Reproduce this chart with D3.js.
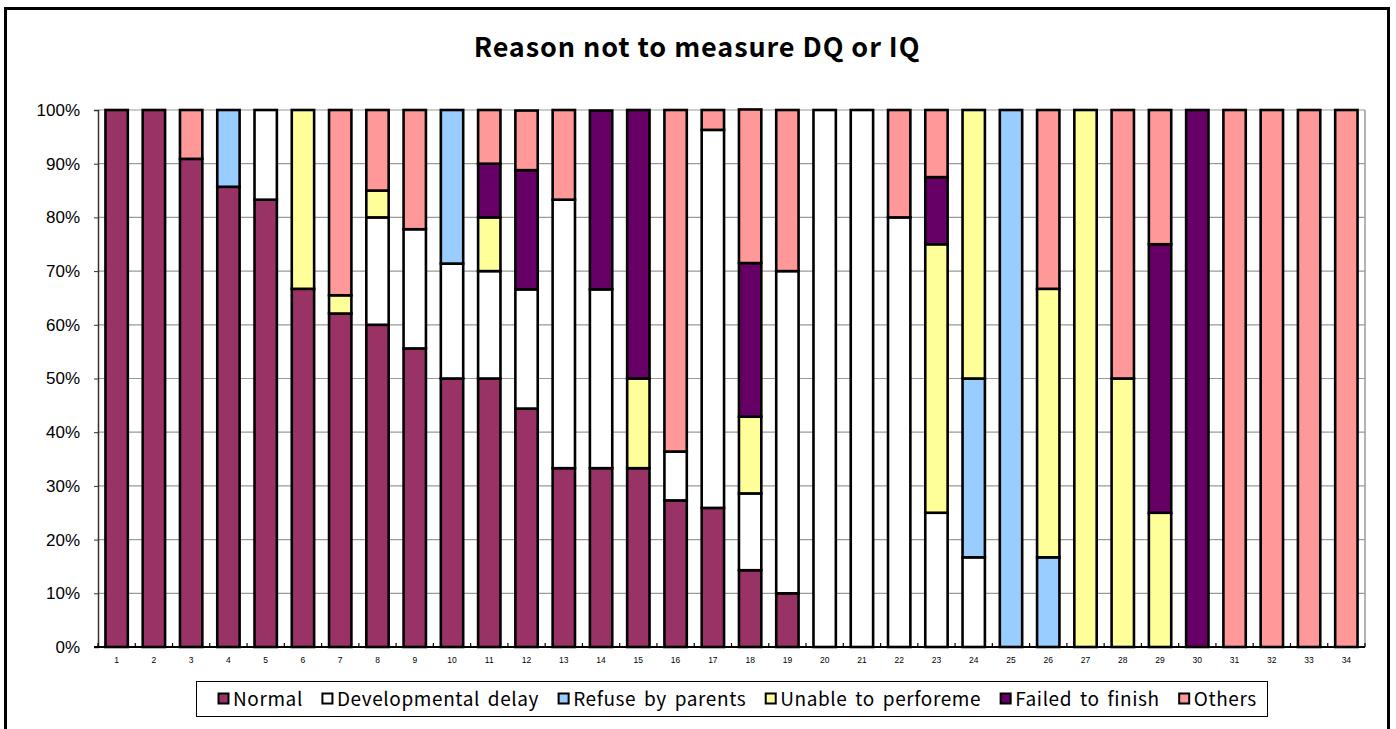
<!DOCTYPE html>
<html><head><meta charset="utf-8">
<script src="https://cdn.jsdelivr.net/npm/d3@7"></script>
<style>
html,body{margin:0;padding:0;background:#fff;}
svg{display:block;}
</style></head>
<body>
<svg id="c" width="1396" height="729"></svg>
<script>
const categories = d3.range(1, 35).map(String);
const seriesNames = ["Normal","Developmental delay","Refuse by parents","Unable to perforeme","Failed to finish","Others"];
const seriesColors = ["#993366","#FFFFFF","#99CCFF","#FFFF99","#660066","#FF9999"];
const yTickLabels = ["0%","10%","20%","30%","40%","50%","60%","70%","80%","90%","100%"];
const chartTitle = "Reason not to measure DQ or IQ";

// percentages per category (1..34)
const normal     = [100,100,90.9,85.7,83.3,66.7,62.1,60,55.6,50,50,44.4,33.3,33.3,33.3,27.3,25.9,14.3,10,0,0,0,0,0,0,0,0,0,0,0,0,0,0,0];
const devDelay   = [0,0,0,0,16.7,0,0,20,22.2,21.4,20,22.2,50,33.3,0,9.1,70.4,14.3,60,100,100,80,25,16.7,0,0,0,0,0,0,0,0,0,0];
const refuse     = [0,0,0,14.3,0,0,0,0,0,28.6,0,0,0,0,0,0,0,0,0,0,0,0,0,33.3,100,16.7,0,0,0,0,0,0,0,0];
const unable     = [0,0,0,0,0,33.3,3.4,5,0,0,10,0,0,0,16.7,0,0,14.3,0,0,0,0,50,50,0,50,100,50,25,0,0,0,0,0];
const failed     = [0,0,0,0,0,0,0,0,0,0,10,22.2,0,33.3,50,0,0,28.6,0,0,0,0,12.5,0,0,0,0,0,50,100,0,0,0,0];
const others     = [0,0,9.1,0,0,0,34.5,15,22.2,0,10,11.1,16.7,0,0,63.6,3.7,28.6,30,0,0,20,12.5,0,0,33.3,0,50,25,0,100,100,100,100];

const seriesValues = [normal, devDelay, refuse, unable, failed, others];

const rows = categories.map((c, i) => {
  const r = {cat: c};
  seriesNames.forEach((s, j) => r[s] = seriesValues[j][i]);
  return r;
});

const svg = d3.select("#c");
const plot = {left: 98, right: 1365, top: 110, bottom: 647};

// outer frame
svg.append("rect").attr("x", 5.5).attr("y", 8.5).attr("width", 1383).attr("height", 740)
  .attr("fill", "#fff").attr("stroke", "#000").attr("stroke-width", 3);

// title
svg.append("text").attr("x", 697).attr("y", 57).attr("text-anchor", "middle")
  .attr("font-family", "'Noto Sans CJK JP', 'DejaVu Sans', sans-serif").attr("font-weight", "bold")
  .attr("font-size", 27).attr("letter-spacing", 0.9).attr("fill", "#000").text(chartTitle);

const x = d3.scaleBand().domain(categories).range([plot.left, plot.right])
  .paddingInner(0.4).paddingOuter(0.2);
const y = d3.scaleLinear().domain([0, 1]).range([plot.bottom, plot.top]);

// gridlines
const yTicks = d3.range(0, 11).map(d => d / 10);
svg.append("g").selectAll("line").data(yTicks.filter(d => d > 0)).join("line")
  .attr("x1", plot.left).attr("x2", plot.right)
  .attr("y1", d => y(d)).attr("y2", d => y(d))
  .attr("stroke", "#9a9a9a").attr("stroke-width", 1.2);
svg.append("line").attr("x1", plot.right).attr("x2", plot.right).attr("y1", plot.top).attr("y2", plot.bottom)
  .attr("stroke", "#9a9a9a").attr("stroke-width", 1.5);

// y axis
const yAxis = d3.axisLeft(y).tickValues(yTicks).tickFormat((d, i) => yTickLabels[i]).tickSize(4).tickPadding(14);
const gy = svg.append("g").attr("transform", `translate(${plot.left},0)`).call(yAxis);
gy.select(".domain").attr("stroke", "#333").attr("stroke-width", 1.5);
gy.selectAll(".tick line").attr("stroke", "#333");
gy.selectAll("text").attr("font-family", "'Liberation Sans', Arial, sans-serif").attr("font-size", 17).attr("fill", "#000");

// stacked bars
const stack = d3.stack().keys(seriesNames).value((d, k) => d[k] / 100);
const layers = stack(rows);
svg.append("g").selectAll("g").data(layers).join("g")
  .attr("fill", (d, i) => seriesColors[i])
  .selectAll("rect").data(d => d.filter(p => p[1] - p[0] > 0)).join("rect")
  .attr("x", d => x(d.data.cat))
  .attr("width", x.bandwidth())
  .attr("y", d => y(d[1]))
  .attr("height", d => y(d[0]) - y(d[1]))
  .attr("stroke", "#000").attr("stroke-width", 2.6);

// x axis
const gx = svg.append("g").attr("transform", `translate(0,${plot.bottom})`)
  .call(d3.axisBottom(x).tickSize(0).tickPadding(10));
gx.select(".domain").remove();
gx.selectAll("text").attr("font-family", "'Liberation Sans', Arial, sans-serif").attr("font-size", 8.5).attr("fill", "#000");
svg.append("line").attr("x1", plot.left - 4).attr("x2", plot.right).attr("y1", plot.bottom).attr("y2", plot.bottom)
  .attr("stroke", "#000").attr("stroke-width", 1.8);
const step = x.step();
const bounds = d3.range(0, categories.length + 1).map(i => x(categories[0]) - step * x.paddingOuter() + i * step);
svg.append("g").selectAll("line").data(bounds).join("line")
  .attr("x1", d => d).attr("x2", d => d).attr("y1", plot.bottom).attr("y2", plot.bottom - 4)
  .attr("stroke", "#000").attr("stroke-width", 1.2);

// legend
const lg = svg.append("g");
lg.append("rect").attr("x", 196.5).attr("y", 681.5).attr("width", 1071).attr("height", 35)
  .attr("fill", "#fff").attr("stroke", "#000").attr("stroke-width", 1);
let lx = 218;
seriesNames.forEach((s, i) => {
  const item = lg.append("g");
  item.append("rect").attr("x", lx + 0.5).attr("y", 693.5).attr("width", 10).attr("height", 10)
    .attr("fill", seriesColors[i]).attr("stroke", "#000").attr("stroke-width", 2);
  const t = item.append("text").attr("x", lx + 15).attr("y", 706)
    .attr("font-family", "'Noto Sans CJK JP', 'DejaVu Sans', sans-serif").attr("font-size", 19)
    .attr("letter-spacing", 0.6).attr("word-spacing", 3).attr("fill", "#000").text(s);
  lx += 15 + t.node().getComputedTextLength() + 19;
});
</script>
</body></html>
